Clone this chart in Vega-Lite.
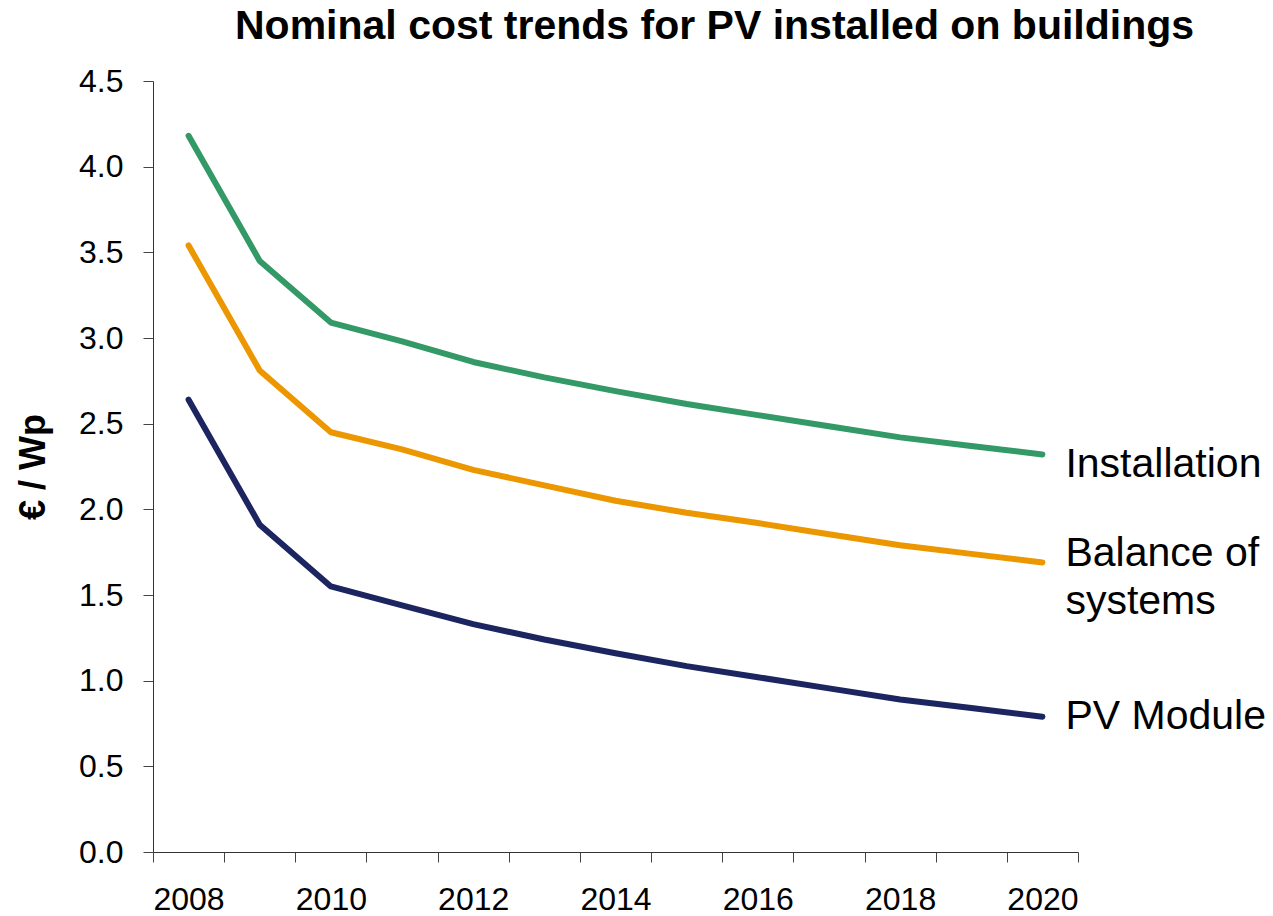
{
  "$schema": "https://vega.github.io/schema/vega-lite/v6.json",
  "width": 925,
  "height": 771,
  "autosize": "none",
  "padding": {"left": 153, "top": 81, "right": 195, "bottom": 64},
  "background": "white",
  "title": {
    "text": "Nominal cost trends for PV installed on buildings",
    "font": "Liberation Sans",
    "fontSize": 41,
    "fontWeight": "bold",
    "color": "black",
    "anchor": "start",
    "frame": "group",
    "dx": 82,
    "offset": 17
  },
  "config": {"view": {"stroke": null}, "font": "Liberation Sans"},
  "data": {
    "values": [
      {"year": 2008, "series": "Installation", "cost": 4.18},
      {"year": 2009, "series": "Installation", "cost": 3.45},
      {"year": 2010, "series": "Installation", "cost": 3.09},
      {"year": 2011, "series": "Installation", "cost": 2.98},
      {"year": 2012, "series": "Installation", "cost": 2.86},
      {"year": 2013, "series": "Installation", "cost": 2.77},
      {"year": 2014, "series": "Installation", "cost": 2.69},
      {"year": 2015, "series": "Installation", "cost": 2.615},
      {"year": 2016, "series": "Installation", "cost": 2.55},
      {"year": 2017, "series": "Installation", "cost": 2.485},
      {"year": 2018, "series": "Installation", "cost": 2.42},
      {"year": 2019, "series": "Installation", "cost": 2.37},
      {"year": 2020, "series": "Installation", "cost": 2.32},
      {"year": 2008, "series": "Balance of systems", "cost": 3.54},
      {"year": 2009, "series": "Balance of systems", "cost": 2.81},
      {"year": 2010, "series": "Balance of systems", "cost": 2.45},
      {"year": 2011, "series": "Balance of systems", "cost": 2.35},
      {"year": 2012, "series": "Balance of systems", "cost": 2.23},
      {"year": 2013, "series": "Balance of systems", "cost": 2.14},
      {"year": 2014, "series": "Balance of systems", "cost": 2.05},
      {"year": 2015, "series": "Balance of systems", "cost": 1.98},
      {"year": 2016, "series": "Balance of systems", "cost": 1.92},
      {"year": 2017, "series": "Balance of systems", "cost": 1.855},
      {"year": 2018, "series": "Balance of systems", "cost": 1.79},
      {"year": 2019, "series": "Balance of systems", "cost": 1.74},
      {"year": 2020, "series": "Balance of systems", "cost": 1.69},
      {"year": 2008, "series": "PV Module", "cost": 2.64},
      {"year": 2009, "series": "PV Module", "cost": 1.91},
      {"year": 2010, "series": "PV Module", "cost": 1.55},
      {"year": 2011, "series": "PV Module", "cost": 1.44},
      {"year": 2012, "series": "PV Module", "cost": 1.33},
      {"year": 2013, "series": "PV Module", "cost": 1.24},
      {"year": 2014, "series": "PV Module", "cost": 1.16},
      {"year": 2015, "series": "PV Module", "cost": 1.085},
      {"year": 2016, "series": "PV Module", "cost": 1.02},
      {"year": 2017, "series": "PV Module", "cost": 0.955},
      {"year": 2018, "series": "PV Module", "cost": 0.89},
      {"year": 2019, "series": "PV Module", "cost": 0.84},
      {"year": 2020, "series": "PV Module", "cost": 0.79}
    ]
  },
  "encoding": {
    "x": {
      "field": "year",
      "type": "ordinal",
      "bandPosition": 0.5,
      "scale": {"type": "band", "paddingInner": 0, "paddingOuter": 0},
      "axis": {
        "title": null,
        "grid": false,
        "tickBand": "extent",
        "labelAngle": 0,
        "labelExpr": "datum.value % 2 == 0 ? datum.label : ''",
        "labelFont": "Liberation Sans",
        "labelFontSize": 32,
        "labelColor": "black",
        "labelPadding": 22,
        "tickSize": 10,
        "tickColor": "#444444",
        "tickWidth": 1,
        "domainColor": "#333333",
        "domainWidth": 1
      }
    },
    "y": {
      "field": "cost",
      "type": "quantitative",
      "scale": {"domain": [0, 4.5], "nice": false},
      "axis": {
        "title": "€ / Wp",
        "titleFont": "Liberation Sans",
        "titleFontSize": 36,
        "titleFontWeight": "bold",
        "titleColor": "black",
        "titlePadding": 26,
        "values": [0, 0.5, 1, 1.5, 2, 2.5, 3, 3.5, 4, 4.5],
        "format": ".1f",
        "grid": false,
        "labelFont": "Liberation Sans",
        "labelFontSize": 32,
        "labelColor": "black",
        "labelPadding": 20,
        "tickSize": 10,
        "tickColor": "#444444",
        "tickWidth": 1,
        "domainColor": "#333333",
        "domainWidth": 1
      }
    }
  },
  "layer": [
    {
      "mark": {"type": "line", "strokeWidth": 6, "strokeCap": "round", "strokeJoin": "round"},
      "encoding": {
        "color": {
          "field": "series",
          "type": "nominal",
          "scale": {
            "domain": ["Installation", "Balance of systems", "PV Module"],
            "range": ["#339966", "#EC9700", "#1C2560"]
          },
          "legend": null
        }
      }
    },
    {
      "transform": [{"filter": "datum.year == 2020 && datum.series == 'Installation'"}],
      "mark": {"type": "text", "text": "Installation", "align": "left", "baseline": "middle", "dx": 23, "dy": 10, "fontSize": 41, "font": "Liberation Sans", "color": "black"}
    },
    {
      "transform": [{"filter": "datum.year == 2020 && datum.series == 'Balance of systems'"}],
      "mark": {"type": "text", "text": ["Balance of", "systems"], "lineHeight": 48, "align": "left", "baseline": "middle", "dx": 23, "dy": -8, "fontSize": 41, "font": "Liberation Sans", "color": "black"}
    },
    {
      "transform": [{"filter": "datum.year == 2020 && datum.series == 'PV Module'"}],
      "mark": {"type": "text", "text": "PV Module", "align": "left", "baseline": "middle", "dx": 23, "dy": 0, "fontSize": 41, "font": "Liberation Sans", "color": "black"}
    }
  ]
}
